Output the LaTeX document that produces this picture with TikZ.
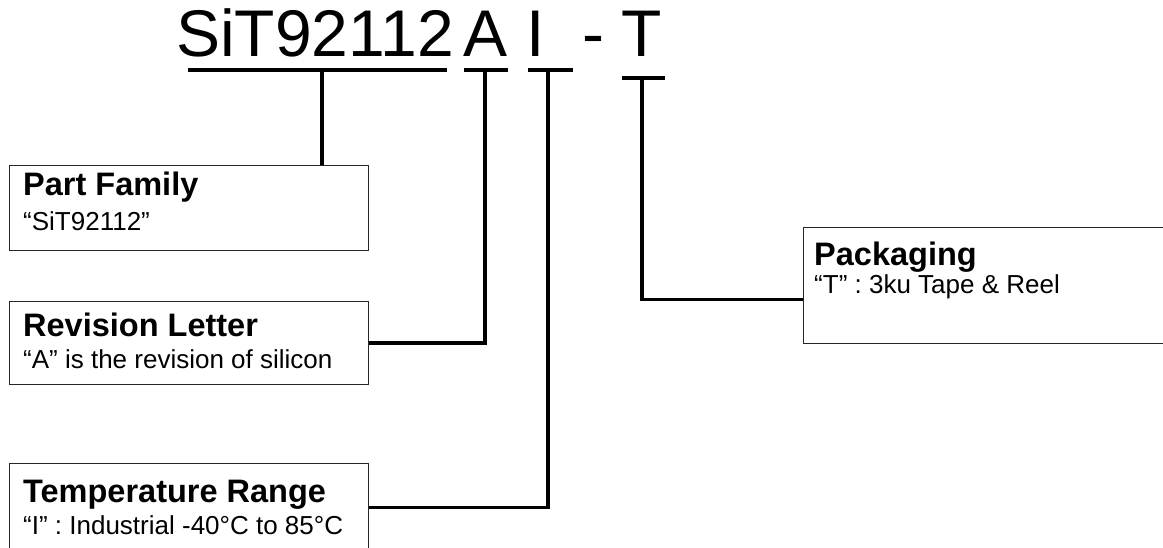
\documentclass[tikz,border=0pt]{standalone}
\usepackage{fontspec}
\setmainfont{Liberation Sans}
\newcommand{\Ttl}[0]{\fontsize{66}{70}\selectfont}
\newcommand{\Hd}[0]{\bfseries\fontsize{32.5}{36}\selectfont}
\newcommand{\Bd}[0]{\fontsize{26}{29}\selectfont}

\begin{document}
\begin{tikzpicture}[x=1pt, y=-1pt,
  box/.style={draw=black!85, line width=1.3pt, anchor=north west, inner sep=0pt},
  lnk/.style={line width=3.5pt},
  txt/.style={anchor=base west, inner sep=0pt}]
\useasboundingbox (0,0) rectangle (1163,548);
% part number
\node[txt] (fam) at (176,57) {\Ttl SiT92112};
\node[txt] (rev) at (463,57) {\Ttl A};
\node[txt] (tmp) at (526,57) {\Ttl I};
\node[txt] (dsh) at (582,57) {\Ttl -};
\node[txt] (pkg) at (621,57) {\Ttl T};
% underlines
\draw[lnk] (188,70) -- (447,70);
\draw[lnk] (464,70) -- (508,70);
\draw[lnk] (528,70) -- (573,70);
\draw[lnk] (622,78) -- (665,78);
\coordinate (u1) at (322,70);
\coordinate (u2) at (485,70);
\coordinate (u3) at (548,70);
\coordinate (u4) at (642,78);
% boxes
\node[box, minimum width=359, minimum height=85] (pf) at (9,165) {};
\node[txt] (pf-h) at (23,196) {\Hd Part Family};
\node[txt] (pf-b) at (23,231) {\Bd “SiT92112”};
\node[box, minimum width=359, minimum height=83] (rl) at (9,301) {};
\node[txt] (rl-h) at (23,337) {\Hd Revision Letter};
\node[txt] (rl-b) at (23,368) {\Bd “A” is the revision of silicon};
\node[box, minimum width=359, minimum height=88] (tr) at (9,463) {};
\node[txt] (tr-h) at (23,502) {\Hd Temperature Range};
\node[txt] (tr-b) at (23,534) {\Bd “I” : Industrial -40°C to 85°C};
\node[box, minimum width=380, minimum height=116] (pk) at (803,227) {};
\node[txt] (pk-h) at (814,266) {\Hd Packaging};
\node[txt] (pk-b) at (814,294) {\Bd “T” : 3ku Tape \& Reel};
% connectors
\draw[lnk] (u1) -- (u1 |- pf.north);
\draw[lnk] (u2) |- (rl.east);
\draw[lnk] (u3) |- (tr.east);
\draw[lnk] (u4) |- ([yshift=-14pt]pk.west);
\end{tikzpicture}
\end{document}
